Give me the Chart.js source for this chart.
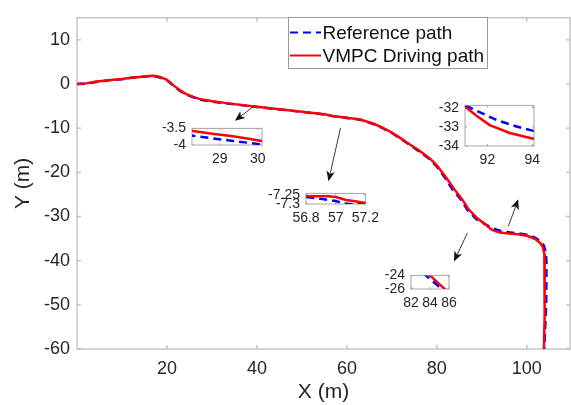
<!DOCTYPE html>
<html>
<head>
<meta charset="utf-8">
<script src="https://cdn.jsdelivr.net/npm/chart.js@4.4.1/dist/chart.umd.min.js"></script>
<style>
  html, body { margin: 0; padding: 0; background: #fff; }
  #wrap { position: relative; width: 571px; height: 405px; overflow: hidden; }
  #wrap canvas { position: absolute; }
</style>
</head>
<body>
<div id="wrap"><canvas id="main" width="571" height="405" style="left:0;top:0"></canvas></div>
<script>
// ---- path data (metres) ----
const refX = [0, 2, 4, 6, 8, 10, 12, 14, 16, 17, 18, 19, 20, 21, 22, 23, 24, 25, 26, 27,
  28.3, 28.8, 29.3, 29.8, 30.1, 32, 35, 40, 45, 50, 55, 56.8, 56.9, 57.0, 57.05, 57.12, 57.2, 60, 63, 66,
  68, 70, 72, 74, 76, 78.5, 80, 82, 83.55, 85.24, 86.8, 88.8, 91, 91.5, 92.4, 93.3, 94.05, 96, 98, 100,
  101, 102, 103, 103.8, 104.2, 104.35, 104.35, 104.3, 104.1, 103.85];
const refY = [0, 0.05, 0.4, 0.7, 0.95, 1.1, 1.4, 1.6, 1.75, 1.8, 1.6, 1.3, 0.85, 0.0, -0.85, -1.6, -2.2, -2.7, -3.05, -3.4,
  -3.72, -3.80, -3.87, -3.94, -3.98, -4.25, -4.6, -5.2, -5.75, -6.3, -6.9, -7.262, -7.272, -7.284, -7.296, -7.302, -7.298, -7.7, -8.1, -9.1,
  -10.0, -11.1, -12.4, -13.8, -15.2, -17.1, -18.7, -21.5, -24.0, -26.0, -28.5, -30.6, -31.88, -32.15, -32.64, -32.98, -33.21, -33.55, -33.8, -34.1,
  -34.4, -34.9, -35.6, -36.6, -38.0, -40.0, -45.0, -50.0, -55.0, -60.0];
const vmpcX = [0, 2, 4, 6, 8, 10, 12, 14, 16, 17, 18, 19, 20, 21, 22, 23, 24, 25, 26, 27,
  28.3, 28.8, 29.3, 29.8, 30.1, 32, 35, 40, 45, 50, 55, 56.8, 56.95, 57.0, 57.07, 57.12, 57.2, 60, 63, 66,
  68, 70, 72, 74, 76, 78.5, 80, 82, 84, 85.55, 87, 89, 91, 91.5, 92.1, 93, 94.05, 96, 98, 100,
  101, 102, 103, 103.6, 103.9, 104, 104, 103.9, 103.8];
const vmpcY = [0, 0.15, 0.5, 0.75, 0.95, 1.15, 1.4, 1.6, 1.8, 1.85, 1.7, 1.4, 0.95, 0.1, -0.75, -1.5, -2.1, -2.6, -2.95, -3.3,
  -3.58, -3.66, -3.73, -3.82, -3.88, -4.15, -4.55, -5.15, -5.7, -6.25, -6.85, -7.257, -7.258, -7.262, -7.278, -7.284, -7.294, -7.65, -8.05, -9.0,
  -9.9, -11.0, -12.3, -13.7, -15.0, -16.9, -18.4, -21.1, -24.0, -26.0, -28.3, -30.4, -31.95, -32.41, -32.91, -33.32, -33.62, -33.85, -34.0, -34.35,
  -34.7, -35.2, -36.0, -37.0, -38.5, -41.0, -45.0, -52.0, -60.0];
const seriesNames = ['Reference path', 'VMPC Driving path'];

// ---- axes ----
const xRange = [0, 109.6], yRange = [-60, 15];
const xTicks = [20, 40, 60, 80, 100];
const yTicks = [-60, -50, -40, -30, -20, -10, 0, 10];

// ---- zoom windows ----
const zoomAX = [28.27, 30.11], zoomAY = [-4, -3.5], zoomAXTicks = [29, 30], zoomAYTicks = [-4, -3.5];
const zoomBX = [56.8, 57.2], zoomBY = [-7.3, -7.242], zoomBXTicks = [56.8, 57, 57.2], zoomBYTicks = [-7.3, -7.25];
const zoomCX = [91, 94.08], zoomCY = [-34, -31.88], zoomCXTicks = [92, 94], zoomCYTicks = [-34, -33, -32];
const zoomDX = [82, 86], zoomDY = [-26, -24], zoomDXTicks = [82, 84, 86], zoomDYTicks = [-26, -24];

// callout arrows, [fromX, fromY, toX, toY] in metres
const arrowFromTo = [
  [39.6, -4.8, 35.1, -8.3],
  [58.6, -9.9, 55.9, -22.0],
  [86.8, -33.7, 83.8, -40.2],
  [95.9, -32.2, 98.1, -26.1]
];

const FONT = "'Liberation Sans', Arial, Helvetica, sans-serif";
const INK = '#262626';

function points(xs, ys) { return xs.map((x, i) => ({ x: x, y: ys[i] })); }

function makeDatasets(lw, clip) {
  return [
    { label: seriesNames[0], data: points(refX, refY), borderColor: '#0000ff', borderDash: [8, 5],
      borderWidth: lw, showLine: true, pointRadius: 0, tension: 0, order: 1, clip: clip },
    { label: seriesNames[1], data: points(vmpcX, vmpcY), borderColor: '#ff0000',
      borderWidth: lw, showLine: true, pointRadius: 0, tension: 0, order: 0, clip: clip }
  ];
}

function linearAxis(range, ticks, fontSize, pad, fit) {
  return {
    type: 'linear', min: range[0], max: range[1],
    grid: { display: false, drawTicks: false, tickLength: 0 }, border: { display: false },
    afterBuildTicks: s => { s.ticks = ticks.map(v => ({ value: v })); },
    afterFit: fit,
    ticks: { font: { family: FONT, size: fontSize }, color: INK, padding: pad,
      maxRotation: 0, autoSkip: false, callback: v => String(+(+v).toFixed(3)) }
  };
}

// box outline with inward tick marks
const frame = {
  id: 'frame',
  beforeDatasetsDraw(chart, args, o) {
    const { ctx, chartArea: a } = chart;
    const x = chart.scales.x, y = chart.scales.y;
    ctx.save();
    if (o.fill) { ctx.fillStyle = '#fff'; ctx.fillRect(a.left, a.top, a.right - a.left, a.bottom - a.top); }
    ctx.strokeStyle = o.color; ctx.lineWidth = o.width;
    ctx.strokeRect(a.left, a.top, a.right - a.left, a.bottom - a.top);
    const t = o.tick;
    if (t > 0) {
      ctx.beginPath();
      x.ticks.forEach(tk => {
        const p = x.getPixelForValue(tk.value);
        ctx.moveTo(p, a.bottom); ctx.lineTo(p, a.bottom - t);
        ctx.moveTo(p, a.top); ctx.lineTo(p, a.top + t);
      });
      y.ticks.forEach(tk => {
        const p = y.getPixelForValue(tk.value);
        ctx.moveTo(a.left, p); ctx.lineTo(a.left + t, p);
        ctx.moveTo(a.right, p); ctx.lineTo(a.right - t, p);
      });
      ctx.stroke();
    }
    ctx.restore();
  }
};

// callout arrows
const callouts = {
  id: 'callouts',
  afterDatasetsDraw(chart) {
    const { ctx } = chart;
    const x = chart.scales.x, y = chart.scales.y;
    ctx.save();
    ctx.strokeStyle = '#3a3a3a'; ctx.fillStyle = '#111'; ctx.lineWidth = 1;
    arrowFromTo.forEach(a => {
      const x0 = x.getPixelForValue(a[0]), y0 = y.getPixelForValue(a[1]);
      const x1 = x.getPixelForValue(a[2]), y1 = y.getPixelForValue(a[3]);
      const ang = Math.atan2(y1 - y0, x1 - x0);
      const L = 10, W = 4.2, back = 2.5;
      ctx.beginPath(); ctx.moveTo(x0, y0);
      ctx.lineTo(x1 - Math.cos(ang) * (L - back), y1 - Math.sin(ang) * (L - back)); ctx.stroke();
      const bx = x1 - Math.cos(ang) * L, by = y1 - Math.sin(ang) * L;
      const nx = -Math.sin(ang), ny = Math.cos(ang);
      ctx.beginPath();
      ctx.moveTo(x1, y1);
      ctx.lineTo(bx + nx * W, by + ny * W);
      ctx.lineTo(x1 - Math.cos(ang) * (L - back), y1 - Math.sin(ang) * (L - back));
      ctx.lineTo(bx - nx * W, by - ny * W);
      ctx.closePath(); ctx.fill();
    });
    ctx.restore();
  }
};

// boxed key built from the dataset labels and styles
const keyBox = {
  id: 'keyBox',
  afterDraw(chart) {
    const { ctx } = chart;
    const bx = 288.5, by = 17.5, bw = 199, bh = 51;
    ctx.save();
    ctx.fillStyle = '#fff'; ctx.fillRect(bx, by, bw, bh);
    ctx.strokeStyle = '#9a9a9a'; ctx.lineWidth = 1; ctx.strokeRect(bx, by, bw, bh);
    ctx.font = '19px ' + FONT; ctx.textBaseline = 'middle'; ctx.textAlign = 'left';
    chart.data.datasets.forEach((ds, i) => {
      const cy = 32.5 + i * 23;
      ctx.strokeStyle = ds.borderColor; ctx.lineWidth = 2;
      ctx.setLineDash(ds.borderDash || []);
      ctx.beginPath(); ctx.moveTo(290, cy); ctx.lineTo(321, cy); ctx.stroke();
      ctx.setLineDash([]);
      ctx.fillStyle = '#111'; ctx.fillText(ds.label, 322.5, cy + 1);
    });
    ctx.restore();
  }
};

new Chart(document.getElementById('main'), {
  type: 'scatter',
  data: { datasets: makeDatasets(2.5, undefined) },
  options: {
    responsive: false, animation: false, devicePixelRatio: 1,
    layout: { padding: { top: 12, right: 1, left: 0, bottom: 0 } },
    plugins: { legend: { display: false }, tooltip: { enabled: false },
      frame: { color: '#bdbdbd', width: 1.3, tick: 4, fill: false } },
    scales: {
      x: Object.assign(linearAxis(xRange, xTicks, 18, 9, s => { s.height = 56; }),
        { title: { display: true, text: 'X (m)', color: INK, font: { family: FONT, size: 21 }, padding: { top: 0, bottom: 0 } } }),
      y: Object.assign(linearAxis(yRange, yTicks, 18, 7, s => { s.width = 77; }),
        { title: { display: true, text: 'Y (m)', color: INK, font: { family: FONT, size: 21 }, padding: { top: 11, bottom: 0 } } })
    }
  },
  plugins: [frame, callouts, keyBox]
});

// magnified views of the two paths
function inset(box, xr, yr, xt, yt) {
  const padL = 46, padT = 9, padR = 16, padB = 30;
  const w = Math.round(box[2] - box[0]) + padL + padR;
  const h = Math.round(box[3] - box[1]) + padT + padB;
  const c = document.createElement('canvas');
  c.width = w; c.height = h;
  c.style.left = (box[0] - padL) + 'px'; c.style.top = (box[1] - padT) + 'px';
  document.getElementById('wrap').appendChild(c);
  new Chart(c, {
    type: 'scatter',
    data: { datasets: makeDatasets(2.5, 0) },
    options: {
      responsive: false, animation: false, devicePixelRatio: 1,
      layout: { padding: { top: padT, right: padR, left: 0, bottom: 0 } },
      plugins: { legend: { display: false }, tooltip: { enabled: false },
        frame: { color: '#a6a6a6', width: 1, tick: 2, fill: true } },
      scales: {
        x: linearAxis(xr, xt, 14, 6, s => { s.height = padB; }),
        y: linearAxis(yr, yt, 14, 6, s => { s.width = padL; })
      }
    },
    plugins: [frame]
  });
}

inset([192, 123, 262, 145], zoomAX, zoomAY, zoomAXTicks, zoomAYTicks);
inset([306, 188, 369, 204], zoomBX, zoomBY, zoomBXTicks, zoomBYTicks);
inset([465, 100, 534, 146], zoomCX, zoomCY, zoomCXTicks, zoomCYTicks);
inset([411, 270, 449, 289], zoomDX, zoomDY, zoomDXTicks, zoomDYTicks);
</script>
</body>
</html>
